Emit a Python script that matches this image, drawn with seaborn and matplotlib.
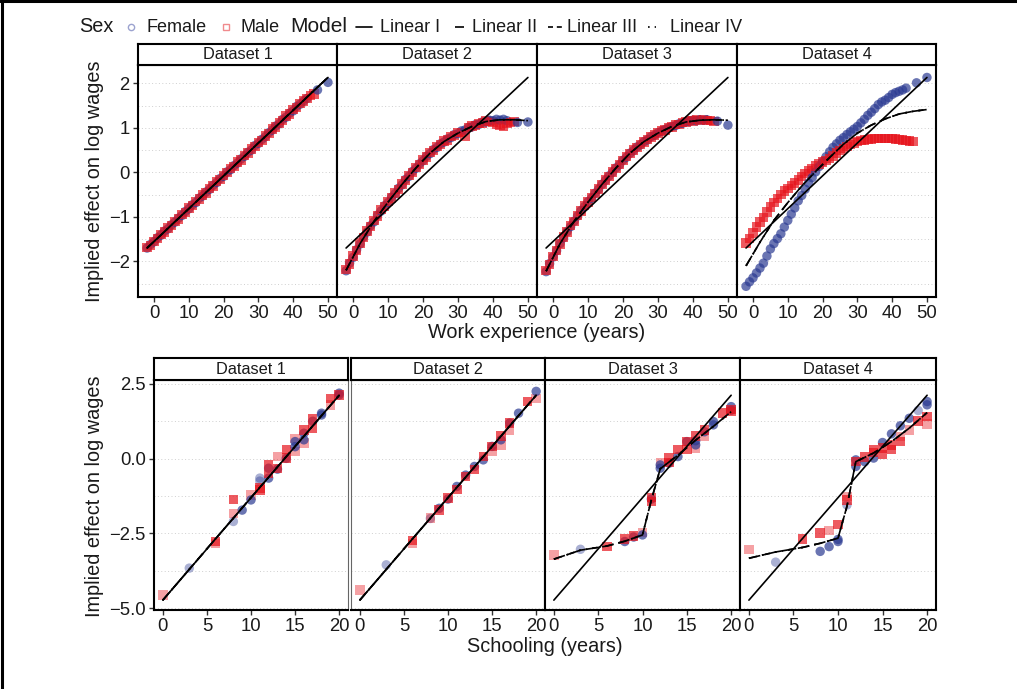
import matplotlib
matplotlib.use("Agg")
import matplotlib.pyplot as plt
from matplotlib.lines import Line2D
import pandas as pd
import seaborn as sns

# ---------------------------------------------------------------- data
SEXES = ["Female", "Male"]
MODELS = ["Linear I", "Linear II", "Linear III", "Linear IV"]
DATASETS = ["Dataset 1", "Dataset 2", "Dataset 3", "Dataset 4"]

# work-experience cells (years)
exper_female = list(range(-2, 45)) + [47, 50]
exper_male = list(range(-2, 47))

# implied effect of experience on log wages
exp_female_1 = [-1.70, -1.62, -1.56, -1.47, -1.41, -1.32, -1.27, -1.18, -1.12, -1.03,
                -0.97, -0.88, -0.82, -0.73, -0.68, -0.58, -0.53, -0.44, -0.38, -0.29,
                -0.23, -0.14, -0.09, 0.01, 0.06, 0.15, 0.21, 0.30, 0.36, 0.45,
                0.50, 0.60, 0.65, 0.74, 0.80, 0.89, 0.95, 1.04, 1.09, 1.19,
                1.24, 1.33, 1.38, 1.48, 1.53, 1.60, 1.66, 1.85, 2.02]
exp_male_1 = [-1.69, -1.64, -1.55, -1.49, -1.39, -1.34, -1.25, -1.19, -1.10, -1.05,
              -0.95, -0.90, -0.80, -0.75, -0.66, -0.60, -0.51, -0.46, -0.36, -0.31,
              -0.21, -0.16, -0.07, -0.01, 0.08, 0.13, 0.23, 0.28, 0.38, 0.43,
              0.52, 0.58, 0.67, 0.72, 0.82, 0.87, 0.97, 1.02, 1.11, 1.17,
              1.26, 1.31, 1.41, 1.46, 1.55, 1.60, 1.66, 1.72, 1.76]
exp_female_2 = [-2.21, -2.04, -1.91, -1.74, -1.61, -1.45, -1.34, -1.20, -1.11, -0.96,
                -0.87, -0.75, -0.68, -0.56, -0.48, -0.36, -0.28, -0.16, -0.09, 0.02,
                0.09, 0.19, 0.26, 0.36, 0.42, 0.51, 0.56, 0.64, 0.68, 0.75,
                0.78, 0.85, 0.87, 0.93, 0.95, 1.01, 1.02, 1.07, 1.08, 1.13,
                1.13, 1.17, 1.16, 1.19, 1.17, 1.19, 1.16, 1.12, 1.13]
exp_male_2 = [-2.18, -2.06, -1.88, -1.76, -1.59, -1.47, -1.32, -1.22, -1.08, -0.98,
              -0.84, -0.77, -0.66, -0.58, -0.46, -0.38, -0.26, -0.18, -0.07, 0.00,
              0.11, 0.17, 0.28, 0.34, 0.44, 0.49, 0.58, 0.62, 0.70, 0.73,
              0.80, 0.83, 0.89, 0.90, 0.82, 1.00, 1.04, 1.05, 1.10, 1.11,
              1.15, 1.14, 1.12, 1.08, 1.05, 1.04, 1.10, 1.12, 1.14]
exp_female_3 = [-2.23, -2.05, -1.90, -1.76, -1.60, -1.47, -1.33, -1.22, -1.10, -0.98,
                -0.86, -0.77, -0.66, -0.58, -0.47, -0.38, -0.27, -0.18, -0.08, 0.00,
                0.10, 0.17, 0.27, 0.34, 0.43, 0.49, 0.57, 0.62, 0.69, 0.73,
                0.80, 0.83, 0.89, 0.92, 0.96, 1.00, 1.03, 1.05, 1.09, 1.10,
                1.14, 1.14, 1.17, 1.16, 1.18, 1.17, 1.18, 1.15, 1.06]
exp_male_3 = [-2.20, -2.07, -1.89, -1.75, -1.61, -1.45, -1.34, -1.20, -1.11, -0.97,
              -0.87, -0.75, -0.67, -0.56, -0.48, -0.37, -0.28, -0.17, -0.09, 0.01,
              0.09, 0.18, 0.26, 0.35, 0.42, 0.50, 0.56, 0.63, 0.68, 0.74,
              0.79, 0.84, 0.88, 0.93, 0.95, 1.01, 1.02, 1.07, 1.08, 1.12,
              1.13, 1.16, 1.15, 1.18, 1.16, 1.19, 1.17, 1.16, 1.14]
exp_female_4 = [-2.56, -2.46, -2.37, -2.26, -2.15, -2.04, -1.88, -1.72, -1.60, -1.49,
                -1.38, -1.23, -1.08, -0.94, -0.80, -0.64, -0.52, -0.38, -0.24, -0.12,
                0.01, 0.13, 0.24, 0.35, 0.46, 0.56, 0.64, 0.72, 0.78, 0.85,
                0.91, 0.97, 1.03, 1.11, 1.19, 1.28, 1.35, 1.43, 1.52, 1.58,
                1.62, 1.68, 1.75, 1.79, 1.82, 1.85, 1.89, 2.01, 2.13]
exp_male_4 = [-1.59, -1.48, -1.36, -1.23, -1.12, -1.01, -0.89, -0.78, -0.68, -0.59,
              -0.50, -0.42, -0.36, -0.30, -0.24, -0.17, -0.10, -0.03, 0.03, 0.08,
              0.14, 0.19, 0.23, 0.27, 0.31, 0.37, 0.43, 0.49, 0.54, 0.58,
              0.62, 0.66, 0.69, 0.71, 0.73, 0.74, 0.75, 0.76, 0.76, 0.76,
              0.76, 0.76, 0.76, 0.75, 0.74, 0.73, 0.71, 0.70, 0.69]

# fitted experience profiles
exp_fit_linear_x = [-2, 50]
exp_fit_linear_y = [-1.70, 2.13]
exp_fit_curve_x = [-2, 2, 6, 10, 14, 18, 22, 26, 30, 34, 38, 42, 46, 50]
exp_fit_curve_1 = [-1.70, -1.41, -1.11, -0.82, -0.52, -0.23, 0.07, 0.36, 0.66, 0.95, 1.25, 1.54, 1.84, 2.13]
exp_fit_curve_2 = [-2.20, -1.60, -1.10, -0.67, -0.27, 0.10, 0.43, 0.69, 0.88, 1.03, 1.14, 1.18, 1.18, 1.16]
exp_fit_curve_3 = [-2.22, -1.60, -1.10, -0.67, -0.27, 0.10, 0.43, 0.69, 0.88, 1.03, 1.13, 1.17, 1.18, 1.17]
exp_fit_curve_4 = [-2.10, -1.57, -1.08, -0.68, -0.31, 0.02, 0.33, 0.63, 0.88, 1.06, 1.20, 1.31, 1.37, 1.41]

# implied effect of schooling on log wages (light = thinly populated cell)
sch_male_x_1 = [0, 6, 6, 8, 8, 10, 11, 11, 12, 12, 13, 13, 14, 14, 15, 15, 16, 16, 17, 17, 19, 19, 20]
sch_male_y_1 = [-4.56, -2.77, -2.83, -1.36, -1.83, -1.22, -0.98, -1.05, -0.20, -0.50, 0.08, -0.32,
                0.30, 0.02, 0.68, 0.24, 0.96, 0.52, 1.35, 1.02, 2.02, 1.80, 2.13]
sch_male_light_1 = [1, 0, 1, 0, 1, 1, 0, 0, 0, 0, 1, 0, 0, 0, 1, 1, 0, 1, 0, 0, 0, 1, 0]
sch_female_x_1 = [3, 8, 9, 10, 11, 11, 12, 12, 13, 14, 15, 15, 16, 16, 17, 18, 18, 20, 20]
sch_female_y_1 = [-3.66, -2.10, -1.72, -1.38, -0.65, -0.75, -0.32, -0.65, -0.35, 0.01,
                  0.57, 0.40, 0.63, 0.85, 1.25, 1.46, 1.52, 2.19, 2.13]
sch_female_light_1 = [1, 1, 0, 0, 1, 1, 0, 0, 0, 0, 0, 0, 0, 0, 0, 0, 0, 0, 0]

sch_male_x_2 = [0, 6, 6, 8, 9, 10, 11, 12, 13, 14, 15, 15, 16, 16, 17, 17, 19, 20]
sch_male_y_2 = [-4.39, -2.74, -2.83, -1.99, -1.72, -1.32, -1.04, -0.60, -0.37, 0.07,
                0.41, 0.24, 0.76, 0.46, 1.19, 0.96, 1.91, 2.02]
sch_male_light_2 = [1, 0, 1, 1, 0, 0, 0, 0, 0, 0, 0, 1, 0, 1, 0, 1, 0, 1]
sch_female_x_2 = [3, 8, 9, 10, 11, 12, 13, 14, 15, 16, 17, 18, 20]
sch_female_y_2 = [-3.55, -2.00, -1.66, -1.35, -0.93, -0.55, -0.26, -0.04, 0.41, 0.63, 1.19, 1.52, 2.25]
sch_female_light_2 = [1, 1, 0, 0, 0, 0, 0, 0, 0, 0, 0, 0, 0]

sch_male_x_3 = [0, 6, 8, 9, 10, 11, 11, 12, 13, 13, 14, 15, 15, 16, 16, 17, 17, 19, 20, 20]
sch_male_y_3 = [-3.22, -2.94, -2.69, -2.58, -2.47, -1.30, -1.43, -0.15, 0.02, -0.12,
                0.30, 0.30, 0.57, 0.76, 0.35, 0.96, 0.76, 1.52, 1.57, 1.65]
sch_male_light_3 = [1, 0, 0, 0, 1, 0, 0, 1, 0, 0, 0, 0, 0, 0, 1, 0, 1, 0, 0, 0]
sch_female_x_3 = [3, 8, 9, 10, 11, 12, 12, 13, 14, 15, 16, 16, 17, 18, 18, 20, 20]
sch_female_y_3 = [-3.03, -2.77, -2.62, -2.55, -1.35, -0.21, -0.32, -0.15, 0.07, 0.57,
                  0.46, 0.60, 0.90, 1.24, 1.13, 1.74, 1.62]
sch_female_light_3 = [1, 0, 0, 0, 0, 0, 0, 0, 0, 0, 0, 0, 0, 0, 0, 0, 0]

sch_male_x_4 = [0, 6, 8, 9, 10, 11, 11, 12, 13, 14, 14, 15, 15, 16, 16, 17, 17, 18, 19, 20, 20]
sch_male_y_4 = [-3.03, -2.69, -2.49, -2.40, -2.21, -1.27, -1.38, -0.10, 0.05, 0.30, 0.20,
                0.13, 0.35, 0.46, 0.30, 0.57, 0.75, 0.96, 1.26, 1.41, 1.16]
sch_male_light_4 = [1, 0, 0, 1, 0, 1, 0, 0, 0, 0, 0, 0, 0, 0, 0, 0, 1, 1, 0, 0, 1]
sch_female_x_4 = [3, 8, 9, 10, 10, 11, 12, 12, 13, 14, 15, 16, 17, 18, 19, 20, 20]
sch_female_y_4 = [-3.46, -3.10, -2.94, -2.77, -2.70, -1.55, -0.04, -0.26, -0.10, 0.02,
                  0.54, 0.83, 1.10, 1.35, 1.61, 1.91, 1.80]
sch_female_light_4 = [1, 0, 0, 0, 0, 1, 0, 0, 0, 0, 0, 0, 0, 0, 1, 0, 0]

# fitted schooling profiles
sch_fit_linear_x = [0, 20]
sch_fit_linear_y = [-4.73, 2.12]
sch_fit_curve_x = [0, 3, 6, 8, 10, 11, 12, 14, 16, 18, 20]
sch_fit_curve_1 = [-4.73, -3.70, -2.67, -1.99, -1.30, -0.96, -0.62, 0.07, 0.75, 1.44, 2.12]
sch_fit_curve_2 = [-4.73, -3.70, -2.67, -1.99, -1.30, -0.96, -0.62, 0.07, 0.75, 1.44, 2.12]
sch_fit_curve_3 = [-3.36, -3.06, -2.92, -2.76, -2.55, -1.38, -0.34, 0.12, 0.62, 1.08, 1.57]
sch_fit_curve_4 = [-3.33, -3.12, -2.97, -2.83, -2.66, -1.60, -0.10, 0.19, 0.57, 1.02, 1.54]

# ---------------------------------------------------------------- style
COLORS = {"Female": "#2B3A92", "Male": "#E6141C"}
MARKERS = {"Female": "o", "Male": "s"}
DASHES = {"Linear I": "", "Linear II": (7, 3), "Linear III": (4, 4), "Linear IV": (1, 3)}
ALPHA_DARK = 0.7
ALPHA_LIGHT = 0.4
PT_SIZE = 46
LINE_W = 1.2

sns.set_style("white")
plt.rcParams["font.family"] = ["Liberation Sans", "DejaVu Sans"]
plt.rcParams["axes.unicode_minus"] = True

W, H = 1017, 689
fig = plt.figure(figsize=(W / 100, H / 100), dpi=100)


def rect(x0, y0, x1, y1):
    return [x0 / W, 1 - y1 / H, (x1 - x0) / W, (y1 - y0) / H]


def fpos(x, y):
    return x / W, 1 - y / H


# ---------------------------------------------------------------- frames
def exp_points(k):
    fem = [exp_female_1, exp_female_2, exp_female_3, exp_female_4][k]
    mal = [exp_male_1, exp_male_2, exp_male_3, exp_male_4][k]
    a = pd.DataFrame({"x": exper_female, "y": fem, "Sex": "Female", "alpha": ALPHA_DARK})
    b = pd.DataFrame({"x": exper_male, "y": mal, "Sex": "Male", "alpha": ALPHA_DARK})
    return pd.concat([a, b], ignore_index=True)


def sch_points(k):
    fx = [sch_female_x_1, sch_female_x_2, sch_female_x_3, sch_female_x_4][k]
    fy = [sch_female_y_1, sch_female_y_2, sch_female_y_3, sch_female_y_4][k]
    fl = [sch_female_light_1, sch_female_light_2, sch_female_light_3, sch_female_light_4][k]
    mx = [sch_male_x_1, sch_male_x_2, sch_male_x_3, sch_male_x_4][k]
    my = [sch_male_y_1, sch_male_y_2, sch_male_y_3, sch_male_y_4][k]
    ml = [sch_male_light_1, sch_male_light_2, sch_male_light_3, sch_male_light_4][k]
    a = pd.DataFrame({"x": fx, "y": fy, "Sex": "Female",
                      "alpha": [ALPHA_LIGHT if v else ALPHA_DARK for v in fl]})
    b = pd.DataFrame({"x": mx, "y": my, "Sex": "Male",
                      "alpha": [ALPHA_LIGHT if v else ALPHA_DARK for v in ml]})
    return pd.concat([a, b], ignore_index=True)


def fit_frame(lin_x, lin_y, cur_x, cur_y):
    parts = []
    for m in MODELS:
        xs, ys = (lin_x, lin_y) if m == "Linear I" else (cur_x, cur_y)
        parts.append(pd.DataFrame({"x": xs, "y": ys, "Model": m}))
    return pd.concat(parts, ignore_index=True)


# ---------------------------------------------------------------- drawing
def draw_panel(ax, pts, fit):
    # women and men interleaved by x so neither sex is painted wholly on top
    for alpha, g in pts.groupby("alpha", sort=True):
        g = g.sort_values(["x", "Sex"], kind="stable")
        sns.scatterplot(data=g, x="x", y="y", hue="Sex", style="Sex", hue_order=SEXES,
                        style_order=SEXES, palette=COLORS, markers=MARKERS, ax=ax,
                        s=PT_SIZE, alpha=alpha, linewidth=0, legend=False, zorder=2)
    sns.lineplot(data=fit, x="x", y="y", style="Model", style_order=MODELS, dashes=DASHES,
                 color="black", linewidth=LINE_W, estimator=None, sort=False, legend=False,
                 ax=ax, zorder=3)
    ax.set_xlabel("")
    ax.set_ylabel("")


def style_panel(ax, xlim, ylim, xticks, yticks, ylabels, yminor, first):
    ax.set_xlim(*xlim)
    ax.set_ylim(*ylim)
    ax.set_xticks(xticks, labels=[str(t) for t in xticks])
    ax.set_yticks(yticks, labels=ylabels)
    ax.set_yticks(yminor, minor=True)
    ax.set_axisbelow(True)
    ax.grid(False)
    ax.yaxis.grid(True, which="both", color="#CFCFCF", linestyle=(0, (1, 2.5)), linewidth=0.7)
    ax.tick_params(which="major", direction="out", length=3.5, width=1, color="#333333",
                   labelsize=13.3, labelcolor="#1a1a1a", pad=2.5,
                   bottom=True, left=first, labelleft=first)
    ax.tick_params(which="minor", length=0)
    for sp in ax.spines.values():
        sp.set_visible(True)
        sp.set_color("black")
        sp.set_linewidth(1.5)


def strip(x0, x1, y0, y1, label):
    s = fig.add_axes(rect(x0, y0, x1, y1))
    s.set_xticks([])
    s.set_yticks([])
    s.set_facecolor("white")
    for sp in s.spines.values():
        sp.set_visible(True)
        sp.set_color("black")
        sp.set_linewidth(1.5)
    s.text(0.5, 0.5, label, ha="center", va="center", fontsize=11.8, color="#1a1a1a",
           transform=s.transAxes)


# top row: work experience
top_cols = [(138, 337), (337, 537), (537, 737), (737, 936)]
exp_curves = [exp_fit_curve_1, exp_fit_curve_2, exp_fit_curve_3, exp_fit_curve_4]
for k, (x0, x1) in enumerate(top_cols):
    ax = fig.add_axes(rect(x0, 65, x1, 297))
    draw_panel(ax, exp_points(k),
               fit_frame(exp_fit_linear_x, exp_fit_linear_y, exp_fit_curve_x, exp_curves[k]))
    style_panel(ax, (-4.6, 52.6), (-2.80, 2.41), [0, 10, 20, 30, 40, 50],
                [-2, -1, 0, 1, 2], ["\u22122", "\u22121", "0", "1", "2"],
                [-2.5, -1.5, -0.5, 0.5, 1.5], k == 0)
    strip(x0, x1, 44, 65, DATASETS[k])

# bottom row: schooling
bot_cols = [(154, 348), (351, 545), (545, 740), (740, 936)]
sch_curves = [sch_fit_curve_1, sch_fit_curve_2, sch_fit_curve_3, sch_fit_curve_4]
for k, (x0, x1) in enumerate(bot_cols):
    ax = fig.add_axes(rect(x0, 380, x1, 610))
    draw_panel(ax, sch_points(k),
               fit_frame(sch_fit_linear_x, sch_fit_linear_y, sch_fit_curve_x, sch_curves[k]))
    style_panel(ax, (-1.0, 21.0), (-5.06, 2.63), [0, 5, 10, 15, 20],
                [-5.0, -2.5, 0.0, 2.5], ["\u22125.0", "\u22122.5", "0.0", "2.5"],
                [-3.75, -1.25, 1.25], k == 0)
    if k == 0:
        ax.spines["right"].set_color("#666666")
        ax.spines["right"].set_linewidth(0.8)
    if k == 1:
        ax.spines["left"].set_color("#666666")
        ax.spines["left"].set_linewidth(0.8)
    strip(x0, x1, 358, 380, DATASETS[k])

# axis titles
fig.text(*fpos(95, 181), "Implied effect on log wages", rotation=90, ha="center", va="center",
         fontsize=14.3, color="#1a1a1a")
fig.text(*fpos(95, 496), "Implied effect on log wages", rotation=90, ha="center", va="center",
         fontsize=14.3, color="#1a1a1a")
fig.text(*fpos(537, 332), "Work experience (years)", ha="center", va="center",
         fontsize=14.3, color="#1a1a1a")
fig.text(*fpos(545, 647), "Schooling (years)", ha="center", va="center",
         fontsize=14.3, color="#1a1a1a")

# legend row
LEG_Y = 27
fig.text(*fpos(79, LEG_Y), "Sex", fontsize=14.3, ha="left", va="center", color="#1a1a1a")
fig.add_artist(Line2D([131 / W], [1 - LEG_Y / H], marker="o", markersize=4.5, mfc="none",
                      mec="#9CA3CF", mew=1.0, linestyle="none"))
fig.text(*fpos(146, LEG_Y), "Female", fontsize=13, ha="left", va="center", color="#1a1a1a")
fig.add_artist(Line2D([226 / W], [1 - LEG_Y / H], marker="s", markersize=4.3, mfc="none",
                      mec="#F08A8D", mew=1.0, linestyle="none"))
fig.text(*fpos(240, LEG_Y), "Male", fontsize=13, ha="left", va="center", color="#1a1a1a")
fig.text(*fpos(290, LEG_Y), "Model", fontsize=15, ha="left", va="center", color="#1a1a1a")
# (key start, key length, label start)
legend_models = [(356, 16, 380), (455, 9, 472), (548, 14, 567), (648, 8, 670)]
for m, (kx, kl, tx) in zip(MODELS, legend_models):
    ln = Line2D([kx / W, (kx + kl) / W], [1 - LEG_Y / H] * 2, color="black", linewidth=LINE_W)
    if DASHES[m]:
        ln.set_dashes((3, 2.3) if m == "Linear III" else DASHES[m])
    fig.add_artist(ln)
    fig.text(*fpos(tx, LEG_Y), m, fontsize=13, ha="left", va="center", color="#1a1a1a")

# figure frame (left and top edges)
fig.add_artist(Line2D([1.5 / W, 1.5 / W], [0, 1], color="black", linewidth=2.2))
fig.add_artist(Line2D([0, 1], [1 - 1.0 / H, 1 - 1.0 / H], color="black", linewidth=2.2))

fig.savefig("out.png", dpi=100, facecolor="white")
